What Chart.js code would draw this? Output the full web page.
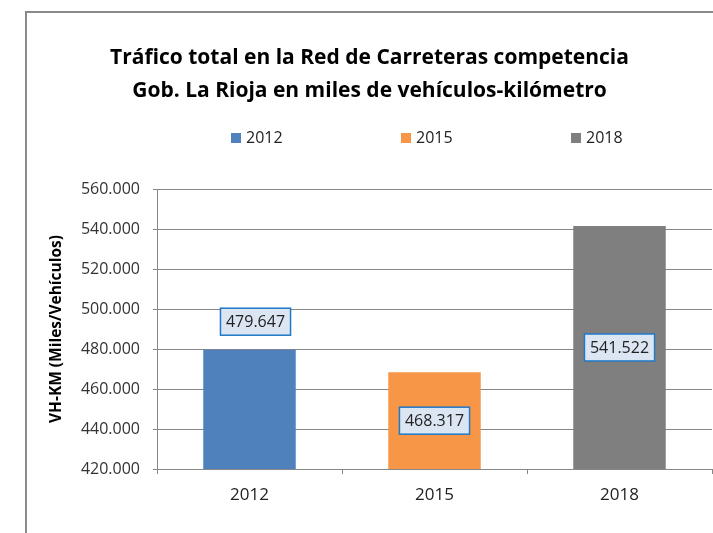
<!DOCTYPE html>
<html>
<head>
    <title>Tráfico total Red de Carreteras - La Rioja</title>
    <script src="https://cdn.jsdelivr.net/npm/chart.js"></script>
    <style>
        html, body {
            margin: 0;
            padding: 0;
            overflow: hidden;
            background: #ffffff;
            width: 713px;
            height: 533px;
        }
        .frame {
            position: absolute;
            left: 25px;
            top: 11px;
            width: 711px;
            height: 540px;
            border: 2px solid #8a8a8a;
        }
    </style>
</head>
<body>
    <div class="frame">
        <canvas id="traficoChart" width="711" height="540"></canvas>
    </div>

    <script>
        const years = ['2012', '2015', '2018'];
        const vehKm = [479647, 468317, 541522];
        const barColors = ['#4f81bd', '#f79646', '#7f7f7f'];
        const yTicks = [420000, 440000, 460000, 480000, 500000, 520000, 540000, 560000];

        const FONT = '"Open Sans", "Liberation Sans", sans-serif';

        function fmtMiles(v) {
            return String(v).replace(/\B(?=(\d{3})+(?!\d))/g, '.');
        }

        // legend row drawn below the title (Excel style, wide spacing)
        const legendRow = {
            id: 'legendRow',
            afterDraw(chart, args, opts) {
                const ctx = chart.ctx;
                ctx.save();
                ctx.font = '16px ' + FONT;
                ctx.textBaseline = 'middle';
                years.forEach((y, i) => {
                    const x = opts.startX + i * opts.stride;
                    ctx.fillStyle = barColors[i];
                    ctx.fillRect(x, opts.y - 5, 10, 10);
                    ctx.fillStyle = '#222';
                    ctx.fillText(y, x + 15, opts.y);
                });
                ctx.restore();
            }
        };

        // boxed value labels
        const valueBoxes = {
            id: 'valueBoxes',
            afterDatasetsDraw(chart, args, opts) {
                const ctx = chart.ctx;
                const meta = chart.getDatasetMeta(0);
                const bottom = chart.chartArea.bottom;
                ctx.save();
                ctx.font = '16px ' + FONT;
                ctx.textAlign = 'center';
                ctx.textBaseline = 'middle';
                meta.data.forEach((bar, i) => {
                    const txt = fmtMiles(vehKm[i]);
                    let cx = bar.x, cy;
                    if (opts.anchors[i] === 'end') {
                        cx = bar.x + 6;
                        cy = bar.y - 28;
                    } else {
                        cy = (bar.y + Math.min(bar.base, bottom)) / 2;
                    }
                    const w = ctx.measureText(txt).width + 11;
                    const h = 27;
                    ctx.fillStyle = '#dce6f2';
                    ctx.fillRect(cx - w / 2, cy - h / 2, w, h);
                    ctx.strokeStyle = '#1f78c8';
                    ctx.lineWidth = 1.5;
                    ctx.strokeRect(cx - w / 2, cy - h / 2, w, h);
                    ctx.fillStyle = '#222';
                    ctx.fillText(txt, cx, cy + 1);
                });
                ctx.restore();
            }
        };

        new Chart(document.getElementById('traficoChart'), {
            type: 'bar',
            data: {
                labels: years,
                datasets: [{
                    label: 'VH-KM',
                    data: vehKm,
                    backgroundColor: barColors,
                    borderWidth: 0,
                    categoryPercentage: 1.0,
                    barPercentage: 0.5
                }]
            },
            plugins: [legendRow, valueBoxes],
            options: {
                responsive: false,
                animation: false,
                layout: {
                    padding: { left: 0, right: 26, top: 0, bottom: 44 }
                },
                plugins: {
                    legend: { display: false },
                    tooltip: { enabled: false },
                    title: {
                        display: true,
                        text: ['Tráfico total en la Red de Carreteras competencia',
                               'Gob. La Rioja en miles de vehículos-kilómetro'],
                        color: '#000',
                        font: { family: FONT, size: 21, weight: 'bold', lineHeight: '33px' },
                        padding: { top: 29, bottom: 81 }
                    },
                    legendRow: { startX: 204, stride: 170, y: 125 },
                    valueBoxes: { anchors: ['end', 'center', 'center'] }
                },
                scales: {
                    x: {
                        grid: {
                            drawOnChartArea: false,
                            drawTicks: true,
                            tickLength: 5,
                            color: '#878787'
                        },
                        border: { color: '#878787' },
                        ticks: {
                            color: '#222',
                            padding: 11,
                            font: { family: FONT, size: 17 }
                        },
                        afterFit(scale) { scale.height = 40; }
                    },
                    y: {
                        min: 420000,
                        max: 560000,
                        afterBuildTicks(scale) {
                            scale.ticks = yTicks.map(v => ({ value: v }));
                        },
                        grid: {
                            color: '#878787',
                            tickLength: 4
                        },
                        border: { color: '#878787' },
                        ticks: {
                            color: '#333',
                            padding: 13,
                            font: { family: FONT, size: 16 },
                            callback: v => fmtMiles(v)
                        },
                        title: {
                            display: true,
                            text: 'VH-KM (Miles/Vehículos)',
                            color: '#000',
                            font: { family: FONT, size: 15.5, weight: 'bold' },
                            padding: { top: 20.7, bottom: 0 }
                        },
                        afterFit(scale) { scale.width = 130; }
                    }
                }
            }
        });
    </script>
</body>
</html>
